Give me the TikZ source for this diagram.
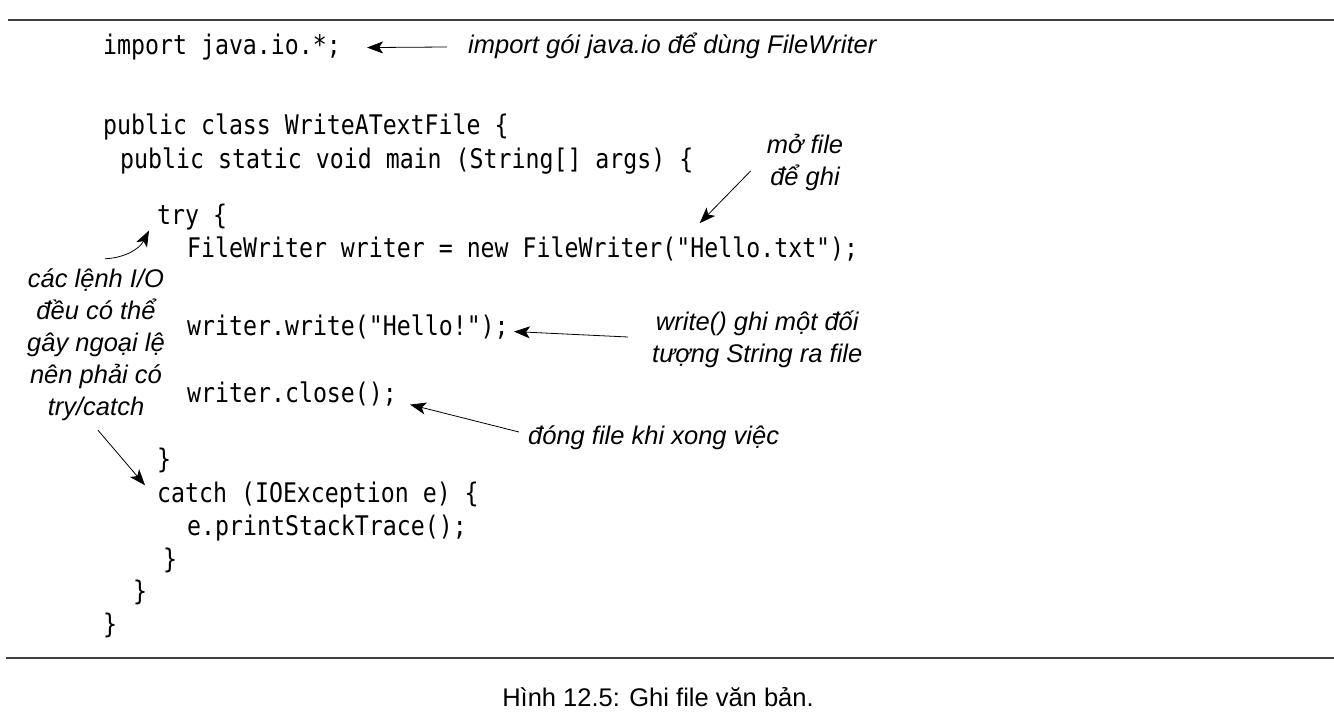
\documentclass[tikz,border=0pt]{standalone}
\usepackage{fontspec}
\setmainfont{Liberation Sans}
\newfontfamily\codefont[FakeStretch=0.86]{DejaVu Sans Mono}
\newfontfamily\notefont{Liberation Sans}
\usetikzlibrary{positioning,arrows.meta}
\tikzset{code/.style={anchor=base west, inner sep=0pt, font=\codefont\fontsize{27}{30}\selectfont},
    note/.style={inner sep=0pt, align=center, font=\notefont\itshape\fontsize{25.5}{32}\selectfont},
    ptr/.style={-{Stealth[length=16pt,width=12pt,inset=4pt]}, line width=0.8pt},
    rule/.style={line width=1.3pt, black!75}
}

\begin{document}
\begin{tikzpicture}[x=1pt, y=-1pt]
    \useasboundingbox (0,0) rectangle (1334,722);
    \draw[rule] (8,20) -- (1334,20);
    \draw[rule] (6,658) -- (1334,658);

    % code
    \node[code] (imp) at (103,55) {import java.io.*;};
    \node[code] (cls) at (103,135) {public class WriteATextFile \{};
    \node[code] (mn) at (120,169) {public static void main (String[] args) \{};
    \node[code] (try) at (157,225) {try \{};
    \node[code] (fw) at (187,258) {FileWriter writer = new FileWriter("Hello.txt");};
    \node[code] (wr) at (187,335) {writer.write("Hello!");};
    \node[code] (cl) at (187,402) {writer.close();};
    \node[code] (tryend) at (157,468) {\}};
    \node[code] (ctch) at (157,502) {catch (IOException e) \{};
    \node[code] (pst) at (187,535) {e.printStackTrace();};
    \node[code] (ctchend) at (163,568) {\}};
    \node[code] (mnend) at (133,600) {\}};
    \node[code] (clsend) at (103,633) {\}};

    % notes
    \node[note, anchor=west] (nimp) at (468,46) {import gói java.io để dùng FileWriter};
    \node[note] (nopen) at (805,163) {mở file\\để ghi};
    \node[note, anchor=west] (nwrite) at (652,339) {write() ghi một đối\\tượng String ra file};
    \node[note, anchor=west] (nclose) at (528,438) {đóng file khi xong việc};
    \node[note] (nio) at (96,345) {các lệnh I/O\\đều có thể\\gây ngoại lệ\\nên phải có\\try/catch};

    \draw[ptr] ([shift={(-21,1)}]nimp.west) -- ([xshift=26]imp.east);
    \draw[ptr] ([shift={(-16,8)}]nopen.west) -- ([shift={(177,-14)}]fw.north);
    \draw[ptr] ([shift={(-24,-2)}]nwrite.west) -- ([shift={(5,5)}]wr.east);
    \draw[ptr] ([shift={(-9,-6)}]nclose.west) -- ([shift={(13,11)}]cl.east);
    \draw[ptr] ([shift={(9,-10)}]nio.north) to[bend right=30] ([shift={(-8,13)}]try.west);
    \draw[ptr] ([shift={(2,9)}]nio.south) -- ([shift={(-12,4)}]ctch.north west);

    \node[font=\notefont\fontsize{25.5}{30}\selectfont] (caption) at (658,697) {Hình 12.5: Ghi file văn bản.};
\end{tikzpicture}
\end{document}
